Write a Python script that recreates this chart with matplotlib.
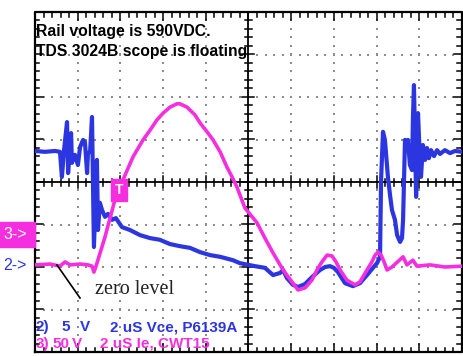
import numpy as np
import matplotlib
matplotlib.use("Agg")
import matplotlib.pyplot as plt

# scope screen: 2 us/div horizontally (10 div = 20 us), vertical in screen divisions (-4..4)
# ch2 = Vce (blue), ch3 = Ie (magenta)
ch2_t = [0.00, 0.47, 0.94, 1.17, 1.26, 1.36, 1.50, 1.55, 1.69, 1.73, 1.87, 2.01, 2.11, 2.25,
         2.34, 2.44, 2.48, 2.58, 2.67, 2.76, 2.90, 2.95, 3.04, 3.14, 3.28, 3.42, 3.61, 3.79,
         4.07, 4.45, 4.92, 5.39, 5.85, 6.32, 6.79, 7.26, 7.73, 8.20, 8.67, 9.27, 9.60, 10.30,
         10.77, 11.15, 11.48, 11.62, 11.80, 12.08, 12.32, 12.65, 12.97, 13.35, 13.59, 13.82,
         14.00, 14.19, 14.52, 14.89, 15.22, 15.55, 15.83, 16.02, 16.16, 16.21, 16.30, 16.39,
         16.53, 16.63, 16.72, 16.86, 16.96, 17.10, 17.19, 17.24, 17.33, 17.42, 17.47, 17.56,
         17.66, 17.70, 17.75, 17.80, 17.85, 17.89, 17.94, 17.99, 18.08, 18.17, 18.27, 18.36,
         18.45, 18.55, 18.69, 18.83, 18.97, 19.20, 19.44, 19.67, 20.00]
ch2_y = [0.73, 0.71, 0.73, 0.71, 0.12, 0.75, 1.41, 0.21, 1.15, 0.45, 0.64, 0.40, 0.82, 0.99,
         0.94, 0.21, 0.68, 0.71, 1.53, -1.53, 0.52, -1.13, -0.49, -0.66, -0.82, -0.75, -0.89,
         -0.85, -1.06, -1.13, -1.25, -1.32, -1.36, -1.46, -1.51, -1.55, -1.65, -1.72, -1.76,
         -1.84, -1.91, -1.98, -2.02, -2.19, -2.14, -2.07, -2.26, -2.42, -2.47, -2.40, -2.24,
         -2.07, -2.00, -1.98, -2.02, -2.12, -2.38, -2.45, -2.38, -2.19, -2.02, -1.91, -1.76,
         0.05, 1.18, 0.99, 0.12, -0.31, -0.66, -0.89, -1.25, -1.41, -1.32, -0.89, 0.99, 0.87,
         0.99, 0.40, 0.28, 1.46, 2.28, 0.99, -0.35, 0.52, 1.62, 0.99, 0.12, 0.87, 0.52, 0.80,
         0.56, 0.75, 0.61, 0.75, 0.66, 0.75, 0.68, 0.73, 0.71]

ch3_t = [0.00, 0.70, 1.17, 1.41, 1.64, 2.11, 2.48, 2.67, 2.76, 2.86, 3.28, 3.84, 4.12, 4.59,
         5.06, 5.39, 5.71, 6.00, 6.32, 6.65, 6.79, 7.12, 7.49, 7.73, 8.06, 8.34, 8.67, 8.99,
         9.23, 9.46, 9.83, 10.40, 10.77, 11.15, 11.62, 12.32, 12.65, 12.97, 13.26, 13.44,
         13.68, 13.91, 14.10, 14.29, 14.61, 14.99, 15.22, 15.55, 15.78, 15.93, 16.07, 16.21,
         16.35, 16.49, 16.72, 17.24, 17.42, 17.70, 17.89, 18.50, 19.20, 20.00]
ch3_y = [-1.95, -1.93, -1.98, -1.88, -1.95, -1.93, -1.95, -1.98, -2.12, -1.98, -1.29, -0.24,
         0.05, 0.59, 0.99, 1.22, 1.46, 1.62, 1.76, 1.84, 1.84, 1.76, 1.58, 1.39, 1.18, 0.99,
         0.71, 0.35, 0.12, -0.12, -0.61, -0.96, -1.32, -1.67, -2.07, -2.54, -2.49, -2.31,
         -2.02, -1.88, -1.72, -1.74, -1.88, -2.07, -2.31, -2.42, -2.35, -2.07, -1.88, -1.72,
         -1.65, -1.72, -1.88, -2.07, -2.00, -1.76, -1.95, -1.84, -1.98, -1.95, -2.00, -1.98]

BLUE = "#2b35e0"
MAG = "#f52ee0"
GRIDC = "#8c8c8c"
W, H = 464, 356
SX, SY = 20 / 427, 8 / 340      # data units per pixel

fig = plt.figure(figsize=(W / 100, H / 100), dpi=100)
ax = fig.add_axes([35 / W, 4 / H, 427 / W, 340 / H])
ax.set_xlim(0, 20); ax.set_ylim(-4, 4)
ax.axis("off")

# dotted graticule
for gx in [2, 4, 6, 8, 12, 14, 16, 18]:
    yy = np.arange(-4, 4.01, 0.2)
    ax.plot(np.full_like(yy, gx), yy, ls="none", marker="s", ms=1.6, mew=0, color=GRIDC)
for gy in [-3, -2, -1, 1, 2, 3]:
    xx = np.arange(0, 20.01, 0.4)
    ax.plot(xx, np.full_like(xx, gy), ls="none", marker="s", ms=1.6, mew=0, color=GRIDC)

# centre crosshair, border and their tick marks
ax.plot([0, 20], [0, 0], color="k", lw=1.3)
ax.plot([10, 10], [-4, 4], color="k", lw=1.3)
tx, ty = [], []
for i, x in enumerate(np.arange(0, 20.01, 0.4)):
    big = i % 5 == 0
    L = (6 if big else 3.5) * SY
    L2 = (8 if big else 4.5) * SY
    tx += [x, x, np.nan, x, x, np.nan, x, x, np.nan]
    ty += [-L, L, np.nan, 4, 4 - L2, np.nan, -4, -4 + L2, np.nan]
for i, y in enumerate(np.arange(-4, 4.01, 0.2)):
    big = i % 5 == 0
    L = (6 if big else 3.5) * SX
    L2 = (8 if big else 4.5) * SX
    tx += [10 - L, 10 + L, np.nan, 0, L2, np.nan, 20, 20 - L2, np.nan]
    ty += [y, y, np.nan, y, y, np.nan, y, y, np.nan]
ax.plot(tx, ty, color="k", lw=1.1)
ax.plot([0, 20, 20, 0, 0], [-4, -4, 4, 4, -4], color="k", lw=1.6, clip_on=False)

# traces
ax.plot(ch2_t, ch2_y, color=BLUE, lw=3.0, solid_joinstyle="round")
ax.plot(ch3_t, ch3_y, color=MAG, lw=2.6, solid_joinstyle="round")

# annotations
sans = "Liberation Sans"
fig.text(36 / W, 1 - 36 / H, "Rail voltage is 590VDC.", fontsize=11.3, fontweight="bold",
         family=sans, va="baseline")
fig.text(36 / W, 1 - 56 / H, "TDS 3024B scope is floating", fontsize=11.3, fontweight="bold",
         family=sans, va="baseline")

kw2 = dict(fontsize=11, color=BLUE, family=sans, va="baseline", fontweight="bold")
fig.text(36 / W, 1 - 331 / H, "2)", **kw2)
fig.text(61 / W, 1 - 331 / H, "5", **kw2)
fig.text(80 / W, 1 - 331 / H, "V", **kw2)
fig.text(110 / W, 1 - 331 / H, "2 uS Vce, P6139A", **kw2)
kw3 = dict(fontsize=11, color=MAG, family=sans, va="baseline", fontweight="bold")
fig.text(36 / W, 1 - 348 / H, "3)", **kw3)
fig.text(52 / W, 1 - 348 / H, "50", **kw3)
fig.text(72 / W, 1 - 348 / H, "V", **kw3)
fig.text(100 / W, 1 - 348 / H, "2 uS Ie, CWT15", **kw3)

# channel markers
fig.patches.append(plt.Rectangle((0, 1 - 247 / H), 35 / W, 25 / H, transform=fig.transFigure,
                                 color=MAG, zorder=0))
fig.text(3 / W, 1 - 234.5 / H, "3->", fontsize=11.5, color="white", family=sans, va="center")
fig.text(3 / W, 1 - 265 / H, "2->", fontsize=11.5, color=BLUE, family=sans, va="center")

# trigger marker
ax.text(3.93, -0.19, "T", fontsize=10, color="white", fontweight="bold", family=sans,
        ha="center", va="center",
        bbox=dict(boxstyle="square,pad=0.3", fc=MAG, ec=MAG))

# zero level callout
ax.plot([22 * SX, 45 * SX], [-83 * SY, -116 * SY], color="k", lw=1.2)
ax.text(60 * SX, -108 * SY, "zero level", fontsize=14.5, family="Liberation Serif",
        color="#222222", va="center", ha="left")

fig.savefig("out.png", dpi=100, facecolor="white")
